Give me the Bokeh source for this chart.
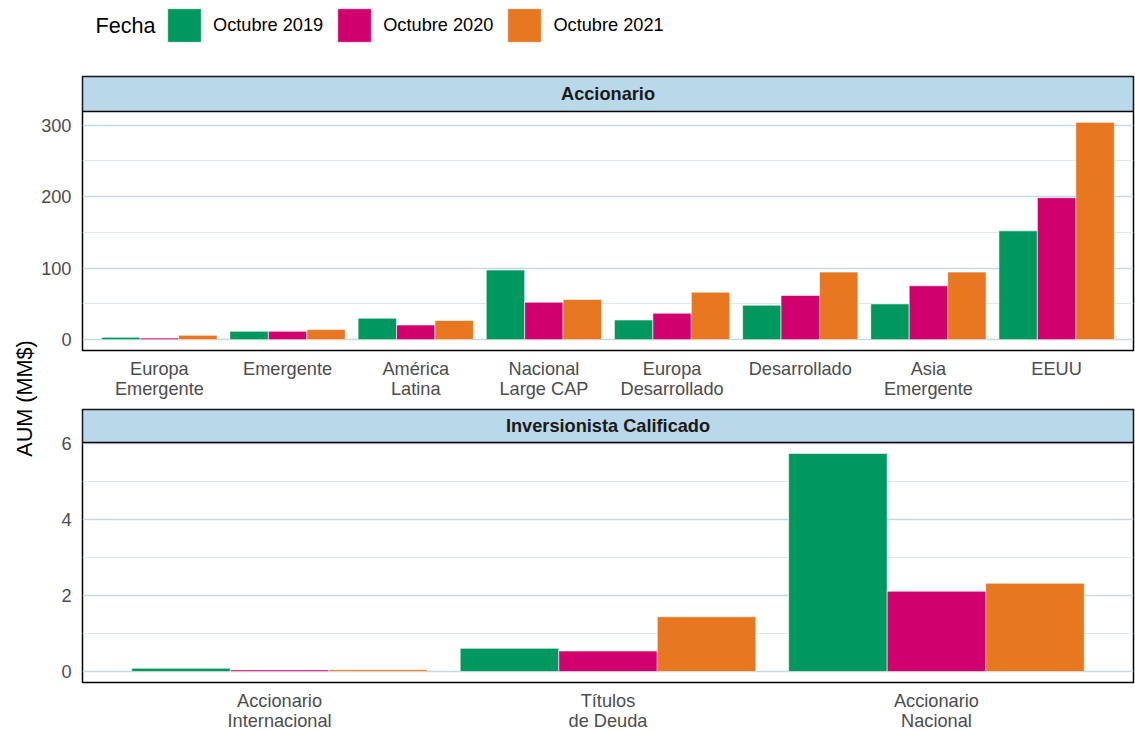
import math
from bokeh.plotting import figure
from bokeh.models import (Range1d, FixedTicker, ColumnDataSource, Label, Legend, LegendItem,
                          BoxAnnotation)
from bokeh.transform import dodge
from bokeh.layouts import column, row
from bokeh.embed import file_html
from bokeh.resources import INLINE
from bokeh.core.properties import value

# ---------------- data ----------------
series_names = ["Octubre 2019", "Octubre 2020", "Octubre 2021"]
series_colors = ["#00985F", "#D0006F", "#E87722"]

acc_title = "Accionario"
acc_categories = ["Europa\nEmergente", "Emergente", "América\nLatina", "Nacional\nLarge CAP",
                  "Europa\nDesarrollado", "Desarrollado", "Asia\nEmergente", "EEUU"]
acc_oct2019 = [3.2, 11.7, 29.9, 97.3, 27.5, 48.2, 50.0, 152.1]
acc_oct2020 = [2.2, 11.7, 20.5, 52.4, 36.9, 61.8, 75.3, 198.5]
acc_oct2021 = [6.0, 14.0, 26.7, 56.2, 66.4, 94.5, 94.5, 303.8]
acc_yticks = [0, 100, 200, 300]
acc_yminor = [50, 150, 250]

ic_title = "Inversionista Calificado"
ic_categories = ["Accionario\nInternacional", "Títulos\nde Deuda", "Accionario\nNacional"]
ic_oct2019 = [0.087, 0.61, 5.73]
ic_oct2020 = [0.045, 0.54, 2.11]
ic_oct2021 = [0.05, 1.44, 2.32]
ic_yticks = [0, 2, 4, 6]
ic_yminor = [1, 3, 5]

FONT = "Liberation Sans"
SMALL = "18.2px"
GRID = "#C1DAEA"
GRID_MINOR = "#D5E6F0"
STRIP = "#B9D8E9"

LEFT = 44
RIGHT = 2
FRAME_W = 1051
YLAB_W = 38
LEG_H = 75


def panel(title, cats, vals, yticks, yminor, strip_h, panel_h, border_top, border_bottom):
    n = len(cats)
    ymax = max(max(v) for v in vals)
    pad = 0.05 * ymax
    lo, hi = -pad, ymax + pad
    strip_span = (hi - lo) * strip_h / panel_h
    top = hi + strip_span
    p = figure(frame_width=FRAME_W, frame_height=strip_h + panel_h, min_border_left=LEFT,
               min_border_right=RIGHT, min_border_top=border_top, min_border_bottom=border_bottom,
               x_range=Range1d(0.4, n + 0.6), y_range=Range1d(lo, top),
               toolbar_location=None, output_backend="svg")
    xs = list(range(1, n + 1))
    data = {"x": xs}
    for i, v in enumerate(vals):
        data[f"s{i}"] = v
    src = ColumnDataSource(data)
    offsets = [-0.3, 0.0, 0.3]
    for i in range(3):
        p.vbar(x=dodge("x", offsets[i], range=p.x_range), top=f"s{i}", bottom=0, width=0.3,
               source=src, fill_color=series_colors[i], line_color="white", line_width=0.6)
    # facet strip
    p.add_layout(BoxAnnotation(bottom=hi, top=top, left=0.4, right=n + 0.6, fill_color=STRIP,
                               fill_alpha=1, line_color="black", line_alpha=1, line_width=1.5))
    p.add_layout(Label(x=(n + 1) / 2, y=(hi + top) / 2, text=title, text_align="center",
                       text_baseline="middle", text_font=FONT, text_font_size=SMALL,
                       text_font_style="bold", text_color="#1A1A1A"))
    p.xaxis.ticker = FixedTicker(ticks=xs, minor_ticks=[])
    p.xaxis.major_label_overrides = {x: c for x, c in zip(xs, cats)}
    p.yaxis.ticker = FixedTicker(ticks=yticks, minor_ticks=yminor)
    for ax in (p.xaxis, p.yaxis):
        ax.axis_line_color = None
        ax.major_tick_line_color = None
        ax.minor_tick_line_color = None
        ax.major_label_text_font = FONT
        ax.major_label_text_font_size = SMALL
        ax.major_label_text_color = "#4D4D4D"
    p.yaxis.major_label_standoff = 5
    p.xaxis.major_label_standoff = 2
    p.xaxis.major_label_text_line_height = 1.0
    p.xgrid.visible = False
    p.ygrid.grid_line_color = GRID
    p.ygrid.grid_line_width = 1.7
    p.ygrid.minor_grid_line_color = GRID_MINOR
    p.ygrid.minor_grid_line_width = 0.9
    p.outline_line_color = "black"
    p.outline_line_width = 1.5
    return p


# ---------------- legend ----------------
leg = figure(width=YLAB_W + LEFT + FRAME_W + RIGHT, height=LEG_H, min_border=0,
             x_range=Range1d(0, 1), y_range=Range1d(0, 1),
             toolbar_location=None, output_backend="svg", x_axis_location=None, y_axis_location=None)
leg.grid.visible = False
leg.outline_line_color = None
items = []
for name, col in zip(series_names, series_colors):
    r = leg.vbar(x=[-10], top=[-10], bottom=[-11], width=0.3, fill_color=col,
                 line_color="white", line_width=0.6)
    items.append(LegendItem(label=value(name), renderers=[r]))
legend = Legend(items=items, orientation="horizontal", location=(163, LEG_H - 46),
                label_text_font=FONT, label_text_font_size=SMALL, label_text_color="black",
                glyph_width=42, glyph_height=42, label_height=42, label_standoff=8, spacing=10,
                padding=0, margin=0, border_line_color=None, background_fill_alpha=0)
leg.add_layout(legend)
leg.add_layout(Label(x=95, y=LEG_H - 25, x_units="screen", y_units="screen", text="Fecha",
                     text_align="left", text_baseline="middle", text_font=FONT,
                     text_font_size="21.6px", text_color="black"))

p1 = panel(acc_title, acc_categories, [acc_oct2019, acc_oct2020, acc_oct2021], acc_yticks,
           acc_yminor, 35, 239, 1, 58)
p2 = panel(ic_title, ic_categories, [ic_oct2019, ic_oct2020, ic_oct2021], ic_yticks,
           ic_yminor, 33, 240, 1, 46)

total_h = (1 + 274 + 58) + (1 + 273 + 46)
ylab = figure(width=YLAB_W, height=total_h, min_border=0, x_range=Range1d(0, 1), y_range=Range1d(0, 1),
              toolbar_location=None, output_backend="svg", x_axis_location=None, y_axis_location=None)
ylab.grid.visible = False
ylab.outline_line_color = None
ylab.add_layout(Label(x=24, y=total_h - 323, x_units="screen", y_units="screen", text="AUM (MM$)",
                      angle=math.pi / 2, text_align="center", text_baseline="middle",
                      text_font=FONT, text_font_size="21.6px", text_color="black"))

layout = column(leg, row(ylab, column(p1, p2)))
open("out.html", "w").write(file_html(layout, INLINE))
